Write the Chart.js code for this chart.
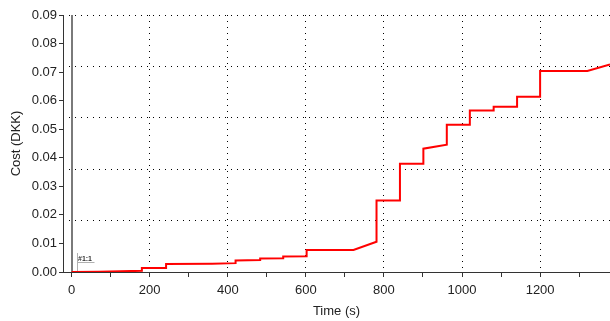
<!DOCTYPE html>
<html>
<head>
<meta charset="utf-8">
<title>Cost over time</title>
<script src="https://cdn.jsdelivr.net/npm/chart.js@4.4.1/dist/chart.umd.min.js"></script>
<style>
  html, body { margin: 0; padding: 0; background: #fff; }
  canvas { display: block; }
</style>
</head>
<body>
<canvas id="myChart" width="610" height="321"></canvas>
<script>
// accumulated cost, one point per corner of the step curve
const times = [0, 70, 180, 180, 242, 242, 360, 420, 420, 483, 483, 542, 542, 602, 602, 722, 781, 781,
    841, 841, 901, 901, 961, 961, 1020, 1020, 1081, 1081, 1141, 1141, 1200, 1200, 1321, 1379];
const costs = [0, 0.0001, 0.0004, 0.0014, 0.0014, 0.0028, 0.0029, 0.0031, 0.0040, 0.0042, 0.0047, 0.0048,
    0.0054, 0.0055, 0.0077, 0.0077, 0.0106, 0.0250, 0.0250, 0.0379, 0.0379, 0.0432, 0.0446, 0.0516,
    0.0516, 0.0566, 0.0566, 0.0579, 0.0579, 0.0614, 0.0614, 0.0704, 0.0704, 0.0727];

// x ticks every 100 s, labelled every 200 s
const timeTicks = [0, 100, 200, 300, 400, 500, 600, 700, 800, 900, 1000, 1100, 1200, 1300];

// run marker
const markerTime = 0;
const markerLabel = '#1:1';

const points = [];
for (let i = 0; i < times.length; i++) {
    points.push({ x: times[i], y: costs[i] });
}

const axisColor = '#333';
const font = { family: "'Liberation Sans', Arial, sans-serif", size: 13 };

const markerPlugin = {
    id: 'marker',
    beforeDatasetsDraw(chart) {
        const { ctx, chartArea, scales } = chart;
        const x = Math.round(scales.x.getPixelForValue(markerTime));
        ctx.save();
        ctx.strokeStyle = '#7a7a7a';
        ctx.lineWidth = 2;
        ctx.beginPath();
        ctx.moveTo(x, chartArea.top);
        ctx.lineTo(x, chartArea.bottom);
        ctx.stroke();

        // little flag with the run name
        const fx = x + 5.5;
        ctx.strokeStyle = '#b0b0b0';
        ctx.lineWidth = 1;
        ctx.beginPath();
        ctx.moveTo(fx, chartArea.bottom);
        ctx.lineTo(fx, chartArea.bottom - 19);
        ctx.moveTo(fx, chartArea.bottom - 9.5);
        ctx.lineTo(fx + 17, chartArea.bottom - 9.5);
        ctx.stroke();
        ctx.fillStyle = '#333';
        ctx.font = "bold 7px 'Liberation Sans', Arial, sans-serif";
        ctx.textBaseline = 'alphabetic';
        ctx.fillText(markerLabel, fx + 0.5, chartArea.bottom - 11.5);
        ctx.restore();
    }
};

var ctx = document.getElementById('myChart').getContext('2d');

var myChart = new Chart(ctx, {
    type: 'line',
    data: {
        datasets: [{
            data: points,
            borderColor: '#ff0000',
            borderWidth: 2,
            pointRadius: 0,
            tension: 0,
            fill: false
        }]
    },
    options: {
        responsive: false,
        animation: false,
        devicePixelRatio: 1,
        layout: { padding: { left: 5, top: 15, right: 0, bottom: 0 } },
        plugins: {
            legend: { display: false },
            tooltip: { enabled: false }
        },
        scales: {
            x: {
                type: 'linear',
                min: -22,
                max: 1379,
                afterBuildTicks(scale) {
                    scale.ticks = timeTicks.map((v) => ({ value: v }));
                },
                afterFit(scale) { scale.height = 49; },
                ticks: {
                    autoSkip: false,
                    maxRotation: 0,
                    padding: 6,
                    color: '#222',
                    font: font,
                    callback: (v) => (v % 200 === 0 ? String(v) : '')
                },
                grid: {
                    color: (c) => (c.tick && c.tick.value % 200 === 0 ? '#000' : 'transparent'),
                    lineWidth: 1,
                    tickColor: axisColor,
                    tickLength: 5
                },
                border: { color: axisColor, width: 1, dash: [1, 5] },
                title: {
                    display: true,
                    text: 'Time (s)',
                    color: '#222',
                    font: font,
                    padding: { top: 0, bottom: 2 }
                }
            },
            y: {
                min: 0,
                max: 0.09,
                afterFit(scale) { scale.width = 58; },
                ticks: {
                    stepSize: 0.005,
                    padding: 2,
                    color: '#222',
                    font: font,
                    callback: (v) => {
                        const h = v * 100;
                        return Math.abs(h - Math.round(h)) < 1e-6 ? v.toFixed(2) : '';
                    }
                },
                grid: {
                    drawOnChartArea: false,
                    tickColor: axisColor,
                    tickLength: 4
                },
                border: { color: axisColor, width: 1 },
                title: {
                    display: true,
                    text: 'Cost (DKK)',
                    color: '#222',
                    font: font
                }
            },
            // dotted horizontal grid, five bands over the full range
            yGrid: {
                position: 'right',
                min: 0,
                max: 0.09,
                ticks: { display: false, stepSize: 0.018 },
                grid: { color: '#000', lineWidth: 1, drawTicks: false },
                border: { display: false, dash: [1, 5] }
            }
        }
    },
    plugins: [markerPlugin]
});
</script>
</body>
</html>
